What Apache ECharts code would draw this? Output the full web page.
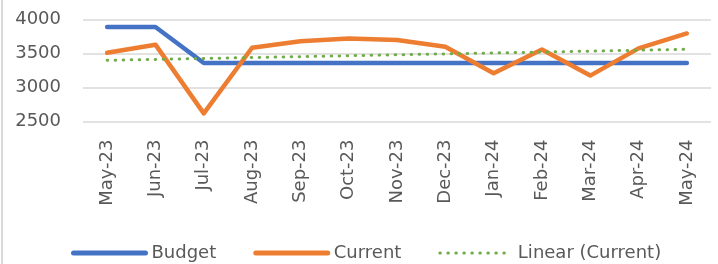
<!DOCTYPE html>
<html>
<head>
<meta charset="utf-8">
<script src="https://cdn.jsdelivr.net/npm/echarts@6/dist/echarts.min.js"></script>
<style>
  html, body { margin: 0; padding: 0; background: #fff; }
</style>
</head>
<body>
<div id="myChart" style="width: 718px; height: 264px;"></div>
<script>
  // months along the x axis
  var months = ['May-23', 'Jun-23', 'Jul-23', 'Aug-23', 'Sep-23', 'Oct-23', 'Nov-23',
    'Dec-23', 'Jan-24', 'Feb-24', 'Mar-24', 'Apr-24', 'May-24']
  var budget = [3890, 3890, 3360, 3360, 3360, 3360, 3360, 3360, 3360, 3360, 3360, 3360, 3360]
  var current = [3510, 3630, 2620, 3585, 3680, 3720, 3700, 3600, 3210, 3560, 3175, 3575, 3795]
  // linear trend of current, only the two ends
  var trend = [3400, null, null, null, null, null, null, null, null, null, null, null, 3562]
  var yTicks = [2500, 3000, 3500, 4000]

  var myChart = echarts.init(document.getElementById('myChart'))
  var txt = '#595959'
  var font = 'DejaVu Sans'
  var dots = [0.5, 7.5]

  myChart.setOption({
    animation: false,
    graphic: [{
      type: 'line',
      shape: { x1: 2, y1: 0, x2: 2, y2: 264 },
      style: { stroke: '#d9d9d9', lineWidth: 2 }
    }],
    grid: { left: 83, right: 7, top: 19.5, bottom: 142.5 },
    legend: {
      left: 66,
      top: 239,
      itemWidth: 72,
      itemHeight: 20,
      itemGap: 37,
      itemStyle: { opacity: 0 },
      textStyle: { color: txt, fontFamily: font, fontSize: 18, padding: [0, 0, 0, 1] },
      data: [
        { name: 'Budget', lineStyle: { width: 5, cap: 'round' } },
        { name: 'Current', lineStyle: { width: 5, cap: 'round' } },
        { name: 'Linear (Current)', lineStyle: { width: 3, type: dots, cap: 'round' } }
      ]
    },
    xAxis: {
      type: 'category',
      data: months,
      boundaryGap: true,
      axisLine: { show: false },
      axisTick: { show: false },
      axisLabel: { rotate: 90, margin: 18, color: txt, fontFamily: font, fontSize: 18 }
    },
    yAxis: {
      type: 'value',
      min: yTicks[0],
      max: yTicks[yTicks.length - 1],
      interval: 500,
      axisLine: { show: false },
      axisTick: { show: false },
      axisLabel: {
        margin: 22, color: txt, fontFamily: font, fontSize: 18,
        formatter: function (v) { return String(v) }
      },
      splitLine: { lineStyle: { color: '#d9d9d9', width: 1.5 } }
    },
    series: [{
      name: 'Budget',
      type: 'line',
      data: budget,
      symbol: 'none',
      lineStyle: { color: '#4472c4', width: 4.5, cap: 'round', join: 'round' },
      itemStyle: { color: '#4472c4' }
    }, {
      name: 'Current',
      type: 'line',
      data: current,
      symbol: 'none',
      lineStyle: { color: '#ed7d31', width: 4.5, cap: 'round', join: 'round' },
      itemStyle: { color: '#ed7d31' }
    }, {
      name: 'Linear (Current)',
      type: 'line',
      data: trend,
      connectNulls: true,
      symbol: 'none',
      lineStyle: { color: '#70ad47', width: 3, type: dots, cap: 'round' },
      itemStyle: { color: '#70ad47' }
    }]
  })
</script>
</body>
</html>
